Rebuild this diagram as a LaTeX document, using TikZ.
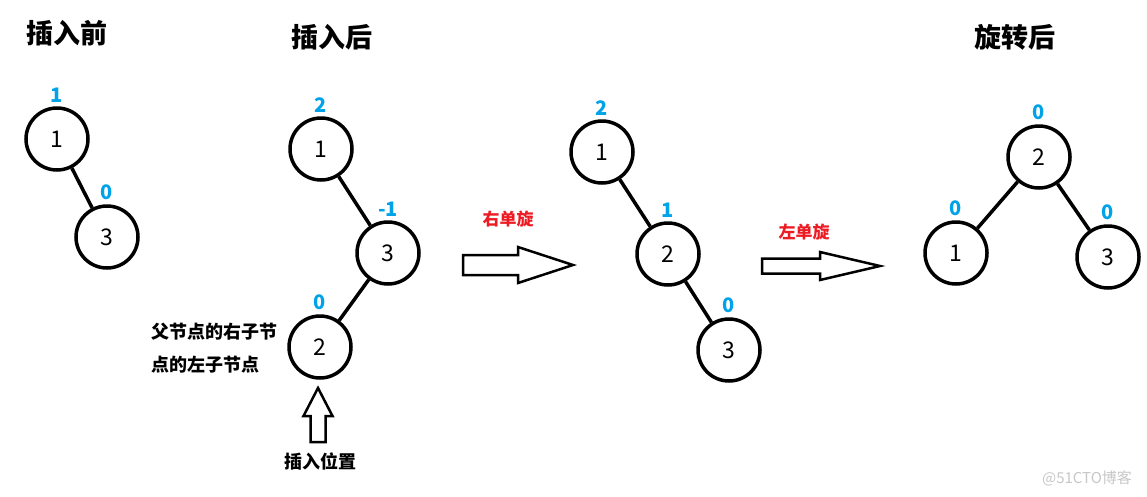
\documentclass[tikz,border=0pt]{standalone}
\usepackage{fontspec}
\setmainfont{Noto Sans CJK SC}
\usetikzlibrary{positioning}
\definecolor{bfblue}{RGB}{0,162,232}
\definecolor{rotred}{RGB}{237,28,36}
\begin{document}
\begin{tikzpicture}[x=1pt,y=-1pt,
      treenode/.style={
         circle,
         draw,
         line width=3.5pt,
         minimum size=62pt,
         inner sep=0pt,
         font=\fontsize{23}{23}\selectfont
      },
      bfac/.style={text=bfblue,font=\fontsize{20}{20}\selectfont\bfseries,inner sep=1pt},
      bf/.style={label={[bfac,label distance=3pt]above:#1}},
      edge/.style={line width=3.5pt},
      title/.style={font=\fontsize{27}{27}\selectfont\bfseries},
      note/.style={font=\fontsize{18}{33}\selectfont\bfseries,align=left},
      rotlabel/.style={text=rotred,font=\fontsize{17}{17}\selectfont\bfseries},
      blockarrow/.style={draw,line width=2.5pt,fill=white,line join=miter},
      mark51/.style={text=black!22,font=\fontsize{15}{15}\selectfont}
    ]
    \useasboundingbox (0,0) rectangle (1147,496);
    % titles
    \node (tbefore) [title] at (67,33) {插入前};
    \node (tafter)  [title] at (332,37) {插入后};
    \node (trot)    [title] at (1015,37) {旋转后};
    % before insert
    \node (t1a) [treenode,bf=1] at (57,139) {1};
    \node (t1c) [treenode,bf=0] at (107,237) {3};
    \draw[edge] (t1a) -- (t1c);
    % after insert
    \node (t2a) [treenode,bf=2] at (321,149) {1};
    \node (t2c) [treenode,bf=-1] at (388,253) {3};
    \node (t2b) [treenode,bf=0] at (320,347) {2};
    \draw[edge] (t2a) -- (t2c);
    \draw[edge] (t2c) -- (t2b);
    \node (nparent) [note,anchor=west] at (148,348) {父节点的右子节\\点的左子节点};
    \coordinate (upa) at (318,442);
    \draw[blockarrow] (upa) ++(-7.5,0) -- ++(0,-26) -- ++(-7,0) -- ++(14.5,-28)
       -- ++(14.5,28) -- ++(-7,0) -- ++(0,26) -- cycle;
    \node (npos) [note] at (320,461) {插入位置};
    % right rotation
    \node (lright) [rotlabel] at (508,219) {右单旋};
    \coordinate (ra) at (463,265);
    \draw[blockarrow] (ra) ++(0,-10) -- ++(55,0) -- ++(0,-8) -- ++(55,18)
       -- ++(-55,18) -- ++(0,-8) -- ++(-55,0) -- cycle;
    \node (t3a) [treenode,bf=2] at (602,152) {1};
    \node (t3b) [treenode,bf=1] at (668,254) {2};
    \node (t3c) [treenode,bf=0] at (729,350) {3};
    \draw[edge] (t3a) -- (t3b);
    \draw[edge] (t3b) -- (t3c);
    % left rotation
    \node (lleft) [rotlabel] at (804,232) {左单旋};
    \coordinate (la) at (762,266);
    \draw[blockarrow] (la) ++(0,-7.5) -- ++(58,0) -- ++(0,-6.5) -- ++(60,14)
       -- ++(-60,14) -- ++(0,-6.5) -- ++(-58,0) -- cycle;
    \node (t4b) [treenode,bf=0] at (1039,157) {2};
    \node (t4a) [treenode,bf=0] at (956,253) {1};
    \node (t4c) [treenode,bf=0] at (1108,257) {3};
    \draw[edge] (t4b) -- (t4a);
    \draw[edge] (t4b) -- (t4c);
    \node (wm) [mark51] at (1087,478) {@51CTO博客};
\end{tikzpicture}
\end{document}
